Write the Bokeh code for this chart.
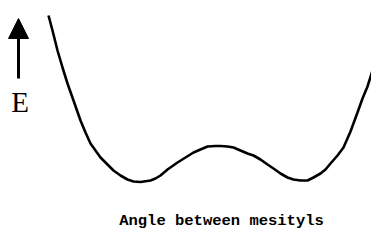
from bokeh.plotting import figure
from bokeh.models import Range1d, Arrow, NormalHead, ColumnDataSource
from bokeh.core.properties import value
from bokeh.embed import file_html
from bokeh.resources import INLINE

# Potential energy curve (arbitrary units)
angle = [48, 52, 57, 62, 67, 73, 80, 85, 90, 100, 107, 113, 120, 127, 133, 140,
         150, 155, 160, 167, 177, 185, 193, 200, 207, 215, 220, 227, 233, 240,
         247, 253, 260, 267, 273, 280, 287, 293, 300, 307, 313, 320, 325, 330,
         337, 343, 350, 357, 362, 367, 372, 376, 380]
energy = [225, 210, 190, 173, 157, 140, 120, 108, 97, 83, 76, 70, 65, 61, 59, 58.5,
          60, 62, 65, 71, 78, 83, 88, 91, 94, 94.5, 94.5, 94, 93, 90,
          87, 85, 81, 76, 72, 67, 63, 61, 60, 60, 63, 67, 71, 77,
          85, 93, 109, 128, 142, 154, 170, 184, 198]

x_label = "Angle between mesityls"
y_label = "E"

p = figure(width=371, height=232, output_backend="svg", toolbar_location=None,
           x_range=Range1d(0, 371), y_range=Range1d(8, 240),
           min_border=0, outline_line_color=None)
p.axis.visible = False
p.grid.visible = False
p.background_fill_color = "white"
p.border_fill_color = "white"

src = ColumnDataSource(dict(angle=angle, energy=energy))
p.line("angle", "energy", source=src, line_color="black", line_width=2.6)

p.add_layout(Arrow(end=NormalHead(size=20, fill_color="black", line_color="black", line_width=1),
                   x_start=18, y_start=162, x_end=18, y_end=222,
                   line_color="black", line_width=3))

p.text(x=[19.5], y=[139], text=[y_label], text_font=value("Liberation Serif"),
       text_font_size="29px", text_align="center", text_baseline="middle",
       text_color="black")
p.text(x=[221], y=[20], text=[x_label], text_font=value("Liberation Mono"),
       text_font_size="15.5px", text_font_style="bold", text_align="center",
       text_baseline="middle", text_color="black")

open("out.html", "w").write(file_html(p, INLINE))
